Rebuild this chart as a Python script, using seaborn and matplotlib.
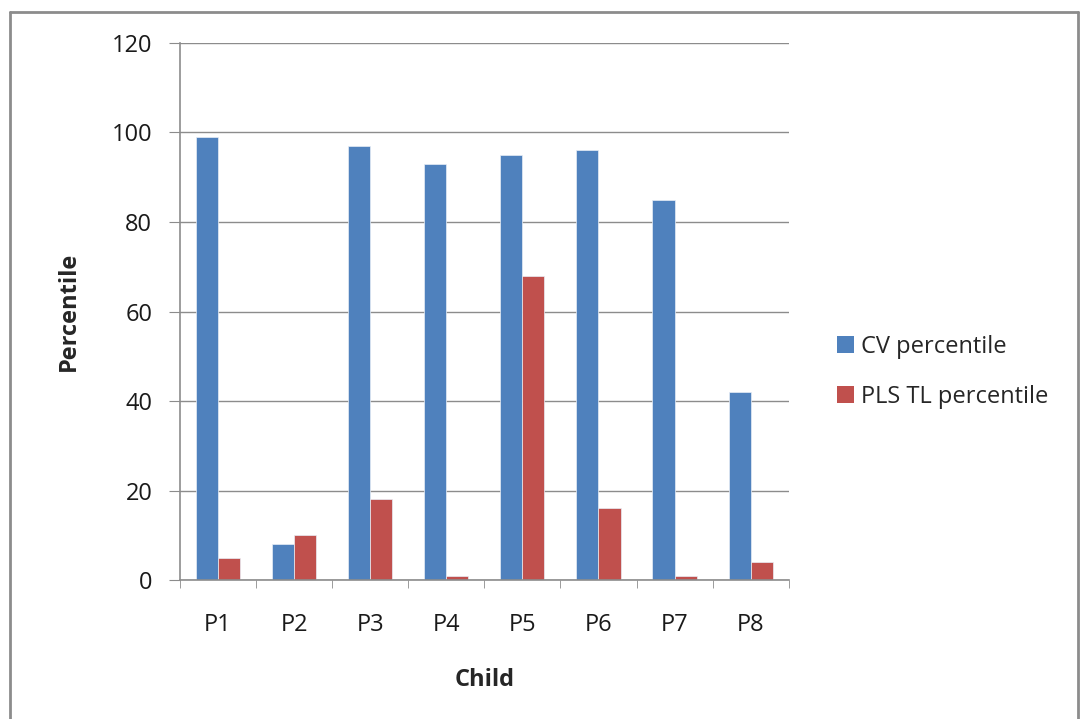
import matplotlib
matplotlib.use("Agg")
import matplotlib.pyplot as plt
import seaborn as sns
import pandas as pd
import numpy as np
from matplotlib.lines import Line2D
from matplotlib.patches import Patch

children = ["P1", "P2", "P3", "P4", "P5", "P6", "P7", "P8"]
cv_percentile = [99, 8, 97, 93, 95, 96, 85, 42]
pls_tl_percentile = [5, 10, 18, 1, 68, 16, 1, 4]
series_names = ["CV percentile", "PLS TL percentile"]
colors = ["#4F81BD", "#C0504D"]

df = pd.DataFrame({
    "Child": children * 2,
    "Percentile": cv_percentile + pls_tl_percentile,
    "Series": [series_names[0]] * len(children) + [series_names[1]] * len(children),
})

sns.set_style("white")
plt.rcParams["font.family"] = ["Open Sans", "DejaVu Sans"]

FS = 17
fig = plt.figure(figsize=(10.82, 7.19), dpi=100)
ax = fig.add_axes([0.1664, 0.1933, 0.5625, 0.7469])

sns.barplot(data=df, x="Child", y="Percentile", hue="Series", palette=colors,
            width=0.58, ax=ax, legend=False, saturation=1, edgecolor="#e8eef6", linewidth=0.5)

ax.set_ylim(0, 120)
ax.set_xlim(-0.5, len(children) - 0.5)
ax.set_yticks(np.arange(0, 121, 20))
ax.yaxis.grid(True, color="#8c8c8c", linewidth=1)
ax.set_axisbelow(True)
for s in ["top", "right"]:
    ax.spines[s].set_visible(False)
ax.spines["left"].set_color("#8c8c8c")
ax.spines["bottom"].set_color("#8c8c8c")
ax.spines["left"].set_linewidth(1.2)
ax.spines["bottom"].set_linewidth(1.2)

ax.tick_params(axis="y", which="major", direction="out", length=8, color="#8c8c8c",
               labelsize=FS, pad=12, left=True, labelcolor="#1a1a1a")
ax.set_xticks(np.arange(-0.5, len(children), 1), minor=True)
ax.tick_params(axis="x", which="minor", direction="out", length=6, color="#8c8c8c", bottom=True)
ax.tick_params(axis="x", which="major", length=0, labelsize=FS, pad=24, labelcolor="#1a1a1a")

ax.set_xlabel("Child", fontsize=FS, fontweight="bold", labelpad=22)
ax.set_ylabel("Percentile", fontsize=FS, fontweight="bold", labelpad=22)

handles = [Patch(facecolor=c, edgecolor="none") for c in colors]
fig.legend(handles, series_names, loc="center left", bbox_to_anchor=(0.7736, 0.483),
           frameon=False, fontsize=FS, handlelength=0.7, handleheight=0.7,
           labelspacing=1.12, handletextpad=0.3, borderpad=0, borderaxespad=0)

# outer chart border
bc = "#8c8c8c"
fig.add_artist(Line2D([10/1082, 10/1082], [0, 1 - 12/719], transform=fig.transFigure, color=bc, lw=2))
fig.add_artist(Line2D([10/1082, 1078/1082], [1 - 12/719, 1 - 12/719], transform=fig.transFigure, color=bc, lw=2))
fig.add_artist(Line2D([1078/1082, 1078/1082], [0, 1 - 12/719], transform=fig.transFigure, color=bc, lw=2))

fig.savefig("out.png", dpi=100, facecolor="white")
